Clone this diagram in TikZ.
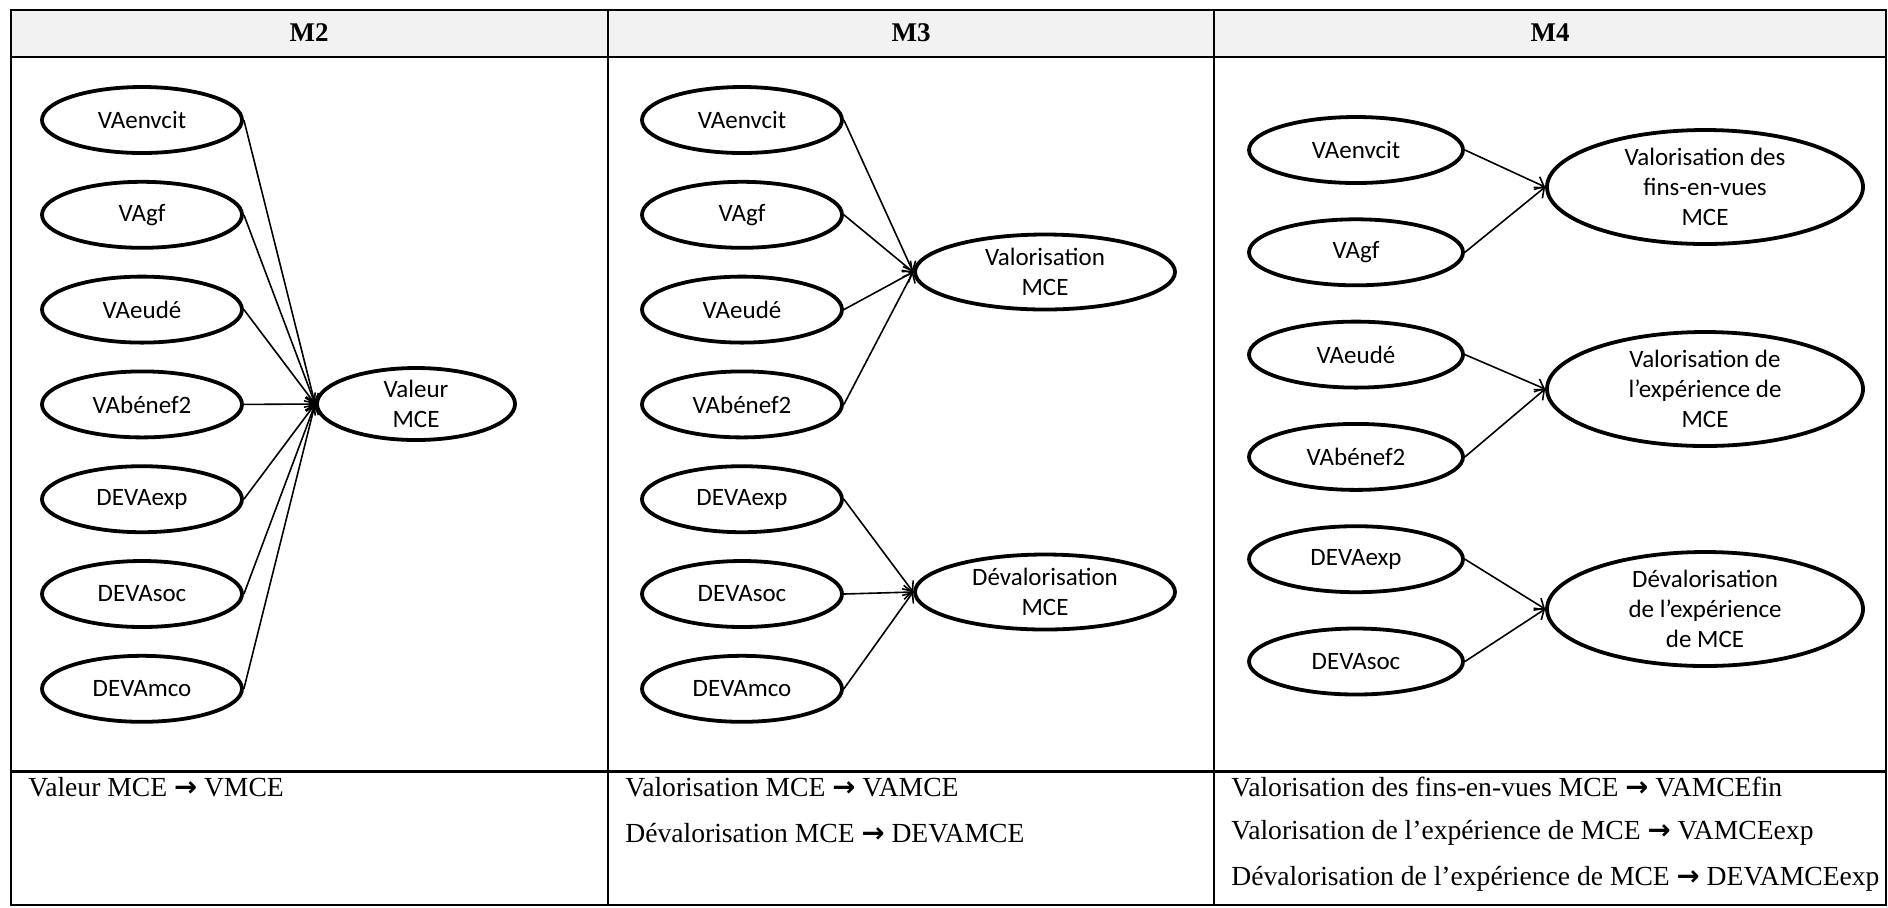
\documentclass[tikz,border=0pt]{standalone}
\usepackage{fontspec}
\setmainfont{Liberation Serif}
\newfontfamily\ellfont{Carlito}
\newfontfamily\arrfont{DejaVu Sans}
\usetikzlibrary{arrows.meta,positioning,shapes.geometric}
\definecolor{hdrgray}{HTML}{F2F2F2}
\newcommand{\tto}{{\arrfont\bfseries →}}

\begin{document}
\begin{tikzpicture}[
  x=0.5pt, y=-0.5pt,
  >={Straight Barb[length=4pt,width=7pt]},
  every node/.style={font=\ellfont\fontsize{12.5}{15}\selectfont},
  var/.style={draw, ellipse, line width=1.9pt, minimum width=100pt,
              minimum height=33pt, inner sep=0pt},
  wvar/.style={var, minimum width=107pt},
  lat/.style 2 args={var, align=center, inner sep=-2pt,
              minimum width=#1, minimum height=#2},
  arr/.style={->, line width=0.8pt},
  tbl/.style={line width=1pt},
  hdr/.style={font=\fontsize{13.5}{15}\selectfont\bfseries},
  note/.style={anchor=west, inner sep=0pt, font=\fontsize{13.8}{16}\selectfont},
  node distance=12.5pt
]
\useasboundingbox (0,0) rectangle (1888,907);

%% Table
\fill[hdrgray] (11,10) rectangle (1886,57);
\draw[tbl] (11,10) rectangle (1886,905);
\draw[tbl] (11,57) -- (1886,57);
\draw[tbl, line width=1.5pt] (11,771) -- (1886,771);
\draw[tbl] (608,10) -- (608,905);
\draw[tbl] (1214,10) -- (1214,905);

\node[hdr] (hm2) at (309,33)  {M2};
\node[hdr] (hm3) at (911,33)  {M3};
\node[hdr] (hm4) at (1550,33) {M4};

%% M2
\node[var]                  (m2env)  at (142,120) {VAenvcit};
\node[var, below=of m2env]  (m2gf)   {VAgf};
\node[var, below=of m2gf]   (m2eud)  {VAeudé};
\node[var, below=of m2eud]  (m2ben)  {VAbénef2};
\node[var, below=of m2ben]  (m2dexp) {DEVAexp};
\node[var, below=of m2dexp] (m2dsoc) {DEVAsoc};
\node[var, below=of m2dsoc] (m2dmco) {DEVAmco};
\node[lat={99pt}{36pt}]     (m2val)  at (416,404) {Valeur\\MCE};

\draw[arr] (m2env.east)  -- (m2val.west);
\draw[arr] (m2gf.east)   -- (m2val.west);
\draw[arr] (m2eud.east)  -- (m2val.west);
\draw[arr] (m2ben.east)  -- (m2val.west);
\draw[arr] (m2dexp.east) -- (m2val.west);
\draw[arr] (m2dsoc.east) -- (m2val.west);
\draw[arr] (m2dmco.east) -- (m2val.west);

%% M3
\node[var]                  (m3env)  at (742,120) {VAenvcit};
\node[var, below=of m3env]  (m3gf)   {VAgf};
\node[var, below=of m3gf]   (m3eud)  {VAeudé};
\node[var, below=of m3eud]  (m3ben)  {VAbénef2};
\node[var, below=of m3ben]  (m3dexp) {DEVAexp};
\node[var, below=of m3dexp] (m3dsoc) {DEVAsoc};
\node[var, below=of m3dsoc] (m3dmco) {DEVAmco};
\node[lat={130pt}{37.5pt}]  (m3valo) at (1045,272) {Valorisation\\MCE};
\node[lat={130pt}{37.5pt}]  (m3deva) at (1045,592) {Dévalorisation\\MCE};

\draw[arr] (m3env.east)  -- (m3valo.west);
\draw[arr] (m3gf.east)   -- (m3valo.west);
\draw[arr] (m3eud.east)  -- (m3valo.west);
\draw[arr] (m3ben.east)  -- (m3valo.west);
\draw[arr] (m3dexp.east) -- (m3deva.west);
\draw[arr] (m3dsoc.east) -- (m3deva.west);
\draw[arr] (m3dmco.east) -- (m3deva.west);

%% M4
\begin{scope}[node distance=16.25pt]
\node[wvar]                  (m4env)  at (1356,150) {VAenvcit};
\node[wvar, below=of m4env]  (m4gf)   {VAgf};
\node[wvar, below=of m4gf]   (m4eud)  {VAeudé};
\node[wvar, below=of m4eud]  (m4ben)  {VAbénef2};
\node[wvar, below=of m4ben]  (m4dexp) {DEVAexp};
\node[wvar, below=of m4dexp] (m4dsoc) {DEVAsoc};
\end{scope}
\node[lat={158pt}{57pt}] (m4fin)  at (1705,187) {Valorisation des\\fins-en-vues\\MCE};
\node[lat={158pt}{57pt}] (m4exp)  at (1705,389) {Valorisation de\\l’expérience de\\MCE};
\node[lat={158pt}{57pt}] (m4dexpc) at (1705,609) {Dévalorisation\\de l’expérience\\de MCE};

\draw[arr] (m4env.east)  -- (m4fin.west);
\draw[arr] (m4gf.east)   -- (m4fin.west);
\draw[arr] (m4eud.east)  -- (m4exp.west);
\draw[arr] (m4ben.east)  -- (m4exp.west);
\draw[arr] (m4dexp.east) -- (m4dexpc.west);
\draw[arr] (m4dsoc.east) -- (m4dexpc.west);

%% Abbreviations
\node[note] (n2a) at (28,787)   {Valeur MCE \tto{} VMCE};
\node[note] (n3a) at (625,787)  {Valorisation MCE \tto{} VAMCE};
\node[note] (n3b) at (625,833)  {Dévalorisation MCE \tto{} DEVAMCE};
\node[note] (n4a) at (1231,787) {Valorisation des fins-en-vues MCE \tto{} VAMCEfin};
\node[note] (n4b) at (1231,833) {Valorisation de l’expérience de MCE \tto{} VAMCEexp};
\node[note] (n4c) at (1231,879) {Dévalorisation de l’expérience de MCE \tto{} DEVAMCEexp};
\end{tikzpicture}
\end{document}
